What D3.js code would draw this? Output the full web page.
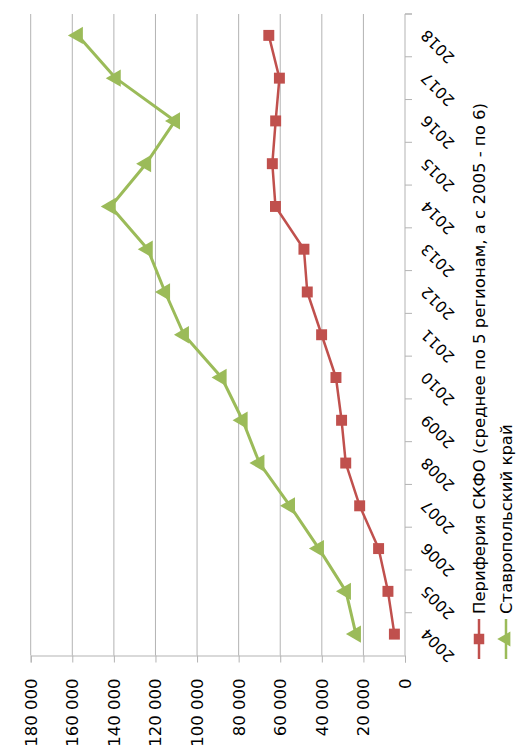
<!DOCTYPE html>
<html><head><meta charset="utf-8">
<script src="https://cdn.jsdelivr.net/npm/d3@7"></script>
<style>body{margin:0;background:#fff}svg{display:block}</style>
</head><body>
<svg id="c" width="517" height="754"></svg>
<script>
const years = ["2004","2005","2006","2007","2008","2009","2010","2011","2012","2013","2014","2015","2016","2017","2018"];
const periphery = [5100, 8200, 12700, 21800, 28500, 30500, 33200, 40100, 47000, 48600, 62300, 63800, 62200, 60400, 65500];
const stavropol = [23600, 28400, 41400, 55300, 70000, 78100, 88200, 106300, 115400, 123700, 141500, 124500, 110600, 139100, 157300];
const valueTicks = [0, 20000, 40000, 60000, 80000, 100000, 120000, 140000, 160000, 180000];
const seriesNames = ["Периферия СКФО (среднее по 5 регионам, а с 2005 - по 6)", "Ставропольский край"];
const colors = ["#C0504D", "#9BBB59"];

const svg = d3.select("#c");
const x = d3.scaleLinear().domain([0, 180000]).range([405, 30.7]);
const yb = d3.scaleBand().domain(years).range([655.5, 14]).paddingInner(0).paddingOuter(0);
const yc = d => yb(d) + yb.bandwidth() / 2;
const fmt = v => d3.format(",")(v).replace(/,/g, " ");

// gridlines
svg.append("g").selectAll("line").data(valueTicks.slice(1)).join("line")
  .attr("x1", d => x(d)).attr("x2", d => x(d))
  .attr("y1", 14).attr("y2", 655.5)
  .attr("stroke", "#b3b3b3").attr("stroke-width", 1);

// value axis (bottom)
const ax = svg.append("g").attr("transform", "translate(0,655.5)")
  .call(d3.axisBottom(x).tickValues(valueTicks).tickSize(7).tickFormat(fmt));
ax.select(".domain").attr("stroke", "#b3b3b3");
ax.selectAll(".tick line").attr("stroke", "#b3b3b3");
ax.selectAll(".tick text")
  .attr("font-family", "DejaVu Sans").attr("font-size", 16.5).attr("fill", "#000")
  .attr("text-anchor", "end").attr("dy", null).attr("y", 0)
  .attr("transform", "translate(0,23) rotate(-90)").attr("dominant-baseline", "central");

// category axis (right)
const cg = svg.append("g");
cg.append("line").attr("x1", 405).attr("x2", 405).attr("y1", 14).attr("y2", 655.5)
  .attr("stroke", "#b3b3b3");
cg.selectAll("line.t").data(years.map(d => yb(d)).concat([14])).join("line").attr("class", "t")
  .attr("x1", 405).attr("x2", 412).attr("y1", d => d).attr("y2", d => d)
  .attr("stroke", "#b3b3b3");
cg.selectAll("text").data(years).join("text")
  .attr("font-family", "DejaVu Sans").attr("font-size", 15.5).attr("fill", "#000")
  .attr("text-anchor", "end").attr("dominant-baseline", "central")
  .attr("transform", d => `translate(424,${yc(d) - 3}) rotate(-135)`)
  .text(d => d);

// lines
const series = [periphery, stavropol];
const line = d3.line().x(d => x(d.v)).y(d => yc(d.k));
series.forEach((s, i) => {
  const pts = years.map((k, j) => ({k, v: s[j]}));
  svg.append("path").datum(pts).attr("d", line).attr("fill", "none")
    .attr("stroke", colors[i]).attr("stroke-width", i === 0 ? 2.5 : 3).attr("stroke-linejoin", "round");
  const sym = i === 0 ? d3.symbol(d3.symbolSquare, 120) : d3.symbol(d3.symbolTriangle, 130);
  svg.append("g").selectAll("path").data(pts).join("path")
    .attr("d", sym)
    .attr("transform", d => `translate(${x(d.v)},${yc(d.k)}) rotate(${i === 0 ? 0 : -90})`)
    .attr("fill", colors[i]);
});

// legend
const lx = [479, 506];
seriesNames.forEach((n, i) => {
  const g = svg.append("g");
  g.append("line").attr("x1", lx[i]).attr("x2", lx[i]).attr("y1", 619).attr("y2", 659)
    .attr("stroke", colors[i]).attr("stroke-width", 2.5);
  const sym = i === 0 ? d3.symbol(d3.symbolSquare, 110) : d3.symbol(d3.symbolTriangle, 100);
  g.append("path").attr("d", sym).attr("fill", colors[i])
    .attr("transform", `translate(${lx[i]},639) rotate(${i === 0 ? 0 : -90})`);
  g.append("text").attr("font-family", "DejaVu Sans").attr("font-size", 16.5).attr("fill", "#000")
    .attr("dominant-baseline", "central")
    .attr("transform", `translate(${lx[i]},614) rotate(-90)`).text(n);
});
</script>
</body></html>
